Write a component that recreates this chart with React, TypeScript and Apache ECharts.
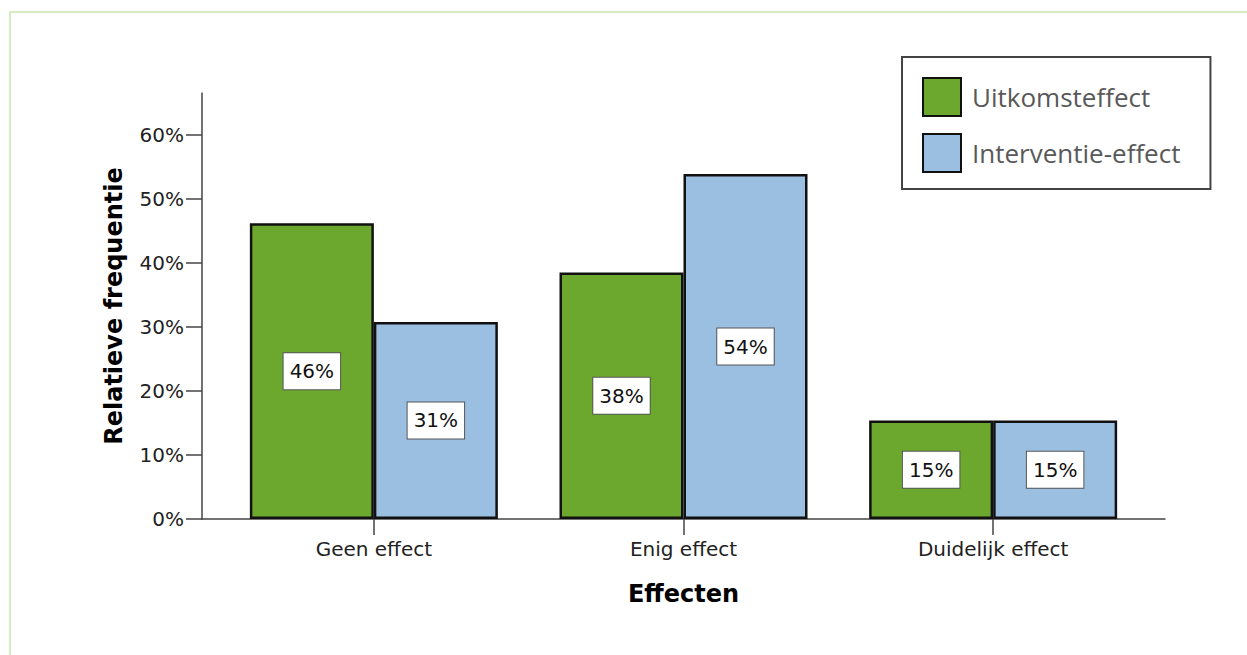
import React, { useEffect, useRef } from "react";
import * as echarts from "echarts";

const categories = ["Geen effect", "Enig effect", "Duidelijk effect"];
const uitkomst = [46.15, 38.46, 15.38];
const interventie = [30.77, 53.85, 15.38];
const yTicks = [0, 10, 20, 30, 40, 50, 60];
const seriesNames = ["Uitkomsteffect", "Interventie-effect"];

export default function App() {
  const ref = useRef<HTMLDivElement>(null);
  useEffect(() => {
    if (!ref.current) return;
    const chart = echarts.init(ref.current, undefined, { renderer: "svg" });
    const font = "DejaVu Sans";
    const label = {
      show: true,
      position: "inside",
      formatter: (p: any) => `${Math.round(p.value[1])}%`,
      color: "#111",
      fontFamily: font,
      fontSize: 20,
      lineHeight: 20,
      backgroundColor: "#fff",
      borderColor: "#555",
      borderWidth: 1,
      padding: [8, 6, 8, 6],
    };
    chart.setOption({
      animation: false,
      backgroundColor: "#fff",
      graphic: [
        {
          type: "rect",
          shape: { x: 10, y: 12, width: 1400, height: 800 },
          style: { fill: "none", stroke: "#d5ecbf", lineWidth: 2 },
          silent: true,
        },
      ],
      legend: {
        orient: "vertical",
        left: 902,
        top: 57,
        itemWidth: 38,
        itemHeight: 38,
        itemGap: 16,
        padding: [20, 30, 16, 20],
        borderColor: "#444",
        borderWidth: 2,
        icon: "rect",
        textStyle: { fontFamily: "Open Sans", fontSize: 26, color: "#595959", padding: [0, 0, 0, 6] },
        data: seriesNames,
      },
      grid: { left: 202, right: 82, top: 93, bottom: 136, containLabel: false },
      xAxis: {
        type: "value",
        min: -0.555,
        max: 2.555,
        name: "Effecten",
        nameLocation: "middle",
        nameGap: 63,
        nameTextStyle: { fontFamily: font, fontSize: 24, fontWeight: "bold", color: "#000" },
        splitLine: { show: false },
        axisLine: { show: true, onZero: false, lineStyle: { color: "#444", width: 1.5 } },
        axisTick: { show: true, length: 16, customValues: [0, 1, 2], lineStyle: { color: "#444", width: 1.5 } },
        axisLabel: {
          customValues: [0, 1, 2],
          formatter: (v: number) => categories[Math.round(v)] ?? "",
          fontFamily: font,
          fontSize: 20,
          color: "#222",
          margin: 20,
        },
      },
      yAxis: {
        type: "value",
        min: 0,
        max: 66.5,
        name: "Relatieve frequentie",
        nameLocation: "middle",
        nameGap: 76,
        nameTextStyle: { fontFamily: font, fontSize: 24, fontWeight: "bold", color: "#000" },
        splitLine: { show: false },
        axisLine: { show: true, onZero: false, lineStyle: { color: "#444", width: 1.5 } },
        axisTick: { show: true, length: 16, customValues: yTicks, lineStyle: { color: "#444", width: 1.5 } },
        axisLabel: {
          customValues: yTicks,
          formatter: (v: number) => `${v}%`,
          fontFamily: font,
          fontSize: 20,
          color: "#222",
          margin: 18,
        },
      },
      series: [
        {
          name: seriesNames[0],
          type: "bar",
          barWidth: 124,
          barGap: "0%",
          data: uitkomst.map((v, i) => [i, v]),
          itemStyle: { color: "#6ca82d", borderColor: "#111", borderWidth: 2.5 },
          label,
        },
        {
          name: seriesNames[1],
          type: "bar",
          barWidth: 124,
          barGap: "0%",
          data: interventie.map((v, i) => [i, v]),
          itemStyle: { color: "#9bbfe1", borderColor: "#111", borderWidth: 2.5 },
          label,
        },
      ],
    });
    return () => chart.dispose();
  }, []);
  return (
    <div
      ref={ref}
      style={{ position: "fixed", left: 0, top: 0, width: 1247, height: 655 }}
    />
  );
}
